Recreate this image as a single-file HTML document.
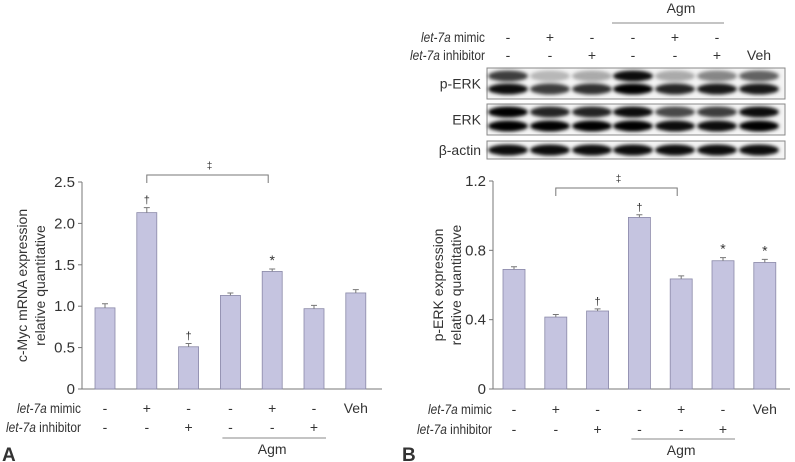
<!DOCTYPE html>
<html><head><meta charset="utf-8">
<style>
html,body{margin:0;padding:0;background:#fff;}
svg{display:block;font-family:"Liberation Sans Narrow","Liberation Sans",sans-serif;}
text{fill:#333;}
</style></head>
<body>
<svg id="fig" width="795" height="462" viewBox="0 0 795 462" xmlns="http://www.w3.org/2000/svg">
<defs>
<filter id="blur" x="-20%" y="-50%" width="140%" height="200%"><feGaussianBlur stdDeviation="1.8"/></filter>
</defs>
<g id="panelA"></g>
<g id="panelB"></g>
<g id="blot"></g>
</svg>
<script>
// ---- data ----
var mimicRow = ["-","+","-","-","+","-","Veh"];
var inhibRow = ["-","-","+","-","-","+",""];
var aValues = [0.98, 2.13, 0.51, 1.13, 1.42, 0.97, 1.16];
var aErrors = [0.05, 0.06, 0.04, 0.03, 0.03, 0.04, 0.04];
var aMarks = ["", "†", "†", "", "*", "", ""];
var aTicks = [0, 0.5, 1.0, 1.5, 2.0, 2.5];
var aTickLabels = ["0","0.5","1.0","1.5","2.0","2.5"];
var bValues = [0.69, 0.415, 0.45, 0.99, 0.635, 0.74, 0.73];
var bErrors = [0.015, 0.015, 0.012, 0.015, 0.018, 0.018, 0.018];
var bMarks = ["", "", "†", "†", "", "*", "*"];
var bTicks = [0, 0.4, 0.8, 1.2];
var bTickLabels = ["0","0.4","0.8","1.2"];
// blot band intensities (0..1) per lane
var pErkUpper = [0.75, 0.25, 0.3, 0.95, 0.3, 0.45, 0.6];
var pErkLower = [0.95, 0.75, 0.8, 1.0, 0.85, 0.9, 0.9];
var erkUpper = [1.0, 0.85, 0.85, 0.95, 0.7, 0.75, 0.95];
var erkLower = [1.0, 1.0, 1.0, 1.0, 0.95, 0.95, 1.0];
var actin = [0.95, 0.95, 0.95, 0.95, 0.95, 0.95, 0.95];

var NS="http://www.w3.org/2000/svg";
function mk(parent, tag, attrs, txt){
  var e=document.createElementNS(NS,tag);
  for(var k in attrs) e.setAttribute(k, attrs[k]);
  if(txt!==undefined) e.textContent=txt;
  parent.appendChild(e); return e;
}

function drawPanel(g, cfg){
  var x0=cfg.x0, x1=cfg.x1, y0=cfg.y0, yTop=cfg.yTop, maxV=cfg.max;
  function yS(v){ return y0 - (v/maxV)*(y0-yTop); }
  function xS(i){ return cfg.c0 + i*cfg.step; }
  var ax=mk(g,'path',{d:'M'+x0+','+yTop+' V'+y0+' H'+x1,stroke:'#777','stroke-width':1,fill:'none'});
  
  
  cfg.ticks.forEach(function(t,i){
    var y=yS(t);
    var tk=mk(g,'line',{x1:x0-4,x2:x0,y1:y,y2:y,stroke:'#777'});
    
    
    var tl=mk(g,'text',{x:x0-7,y:y+5,'text-anchor':'end','font-size':15},cfg.tickLabels[i]);
    
    
  });
  cfg.values.forEach(function(v,i){
    var cx=xS(i), w=cfg.bw;
    var r=mk(g,'rect',{x:cx-w/2,y:yS(v),width:w,height:y0-yS(v),fill:'#c5c4e0',stroke:'#8a89a8','stroke-width':0.8});
    
    
    var ye=yS(v+cfg.errors[i]);
    var eb=mk(g,'path',{d:'M'+cx+','+yS(v)+' V'+ye+' M'+(cx-3)+','+ye+' H'+(cx+3),stroke:'#777',fill:'none'});
    
    
    if(cfg.marks[i]){
      var m=mk(g,'text',{x:cx,y:ye-4,'text-anchor':'middle','font-size':cfg.marks[i]=='*'?14:11},cfg.marks[i]);
      
      
    }
    var t1=mk(g,'text',{x:cx,y:cfg.rowY1,'text-anchor':'middle','font-size':14},mimicRow[i]);
    
    
    var t2=mk(g,'text',{x:cx,y:cfg.rowY2,'text-anchor':'middle','font-size':14},inhibRow[i]);
    
    
  });
  var l1=mk(g,'text',{x:x0-65,y:cfg.rowY1,'font-size':14,textLength:64,lengthAdjust:'spacingAndGlyphs'});
  
  
  mk(l1,'tspan',{'font-style':'italic'},'let-7a'); mk(l1,'tspan',{},' mimic');
  var l2=mk(g,'text',{x:x0-76,y:cfg.rowY2,'font-size':14,textLength:75,lengthAdjust:'spacingAndGlyphs'});
  
  
  mk(l2,'tspan',{'font-style':'italic'},'let-7a'); mk(l2,'tspan',{},' inhibitor');
  var al=mk(g,'line',{x1:xS(3)-8,x2:xS(5)+12,y1:cfg.agmY,y2:cfg.agmY,stroke:'#888'});
  
  
  var at=mk(g,'text',{x:xS(4),y:cfg.agmY+16,'text-anchor':'middle','font-size':14},'Agm');
  
  
  var by=cfg.brY;
  var br=mk(g,'path',{d:'M'+xS(1)+','+(by+8)+' V'+by+' H'+(xS(4)-4)+' V'+(by+8),stroke:'#777',fill:'none'});
  
  
  var bt=mk(g,'text',{x:(xS(1)+xS(4))/2,y:by-6,'text-anchor':'middle','font-size':10},'‡');
  
  
  var yt=mk(g,'text',{transform:'translate('+cfg.titleX+','+((yTop+y0)/2)+') rotate(-90)','text-anchor':'middle','font-size':14});
  
  
  mk(yt,'tspan',{x:0,y:0},cfg.title1);
  mk(yt,'tspan',{x:0,y:18},'relative quantitative');
  var pl=mk(g,'text',{x:cfg.letterX,y:461,'font-size':19,'font-weight':'bold','font-family':'Liberation Sans, sans-serif'},cfg.letter);
  
  
}

drawPanel(document.getElementById('panelA'),{x0:82,x1:382,y0:389,yTop:182,max:2.5,c0:105,step:41.8,bw:20,
  values:aValues,errors:aErrors,marks:aMarks,ticks:aTicks,tickLabels:aTickLabels,
  rowY1:413,rowY2:432,agmY:438,brY:175,titleX:27,title1:'c-Myc mRNA expression',letter:'A',letterX:2});
drawPanel(document.getElementById('panelB'),{x0:493,x1:790,y0:389,yTop:181,max:1.2,c0:514,step:41.8,bw:22,
  values:bValues,errors:bErrors,marks:bMarks,ticks:bTicks,tickLabels:bTickLabels,
  rowY1:414,rowY2:434,agmY:439,brY:188,titleX:443,title1:'p-ERK expression',letter:'B',letterX:402});

(function(){
  var g=document.getElementById('blot');
  var lanes=[514,556,598,639,681,723,765];
  var t=mk(g,'text',{x:681,y:13,'text-anchor':'middle','font-size':14},'Agm');
  
  
  var l=mk(g,'line',{x1:612,x2:724,y1:23,y2:23,stroke:'#888'});
  
  
  var r1=mk(g,'text',{x:421,y:42,'font-size':14,textLength:64,lengthAdjust:'spacingAndGlyphs'});
  
  
  mk(r1,'tspan',{'font-style':'italic'},'let-7a'); mk(r1,'tspan',{},' mimic');
  var r2=mk(g,'text',{x:410,y:60,'font-size':14,textLength:75,lengthAdjust:'spacingAndGlyphs'});
  
  
  mk(r2,'tspan',{'font-style':'italic'},'let-7a'); mk(r2,'tspan',{},' inhibitor');
  lanes.forEach(function(cx,i){
    var a=mk(g,'text',{x:cx-6,y:42,'text-anchor':'middle','font-size':14},mimicRow[i]=='Veh'?'':mimicRow[i]);
    
    
    var b=mk(g,'text',{x:cx-6,y:60,'text-anchor':'middle','font-size':14},i==6?'Veh':inhibRow[i]);
    
    
  });
  var boxes=[{y:68,h:31,n:'p-ERK',bands:[[76,pErkUpper],[89,pErkLower]]},
             {y:104,h:31,n:'ERK',bands:[[112,erkUpper],[126,erkLower]]},
             {y:141,h:18,n:'β-actin',bands:[[150,actin]]}];
  boxes.forEach(function(bx){
    var r=mk(g,'rect',{x:487,y:bx.y,width:298,height:bx.h,fill:'#f4f4f4',stroke:'#888'});
    
    
    var lt=mk(g,'text',{x:481,y:bx.y+bx.h/2+5,'text-anchor':'end','font-size':14},bx.n);
    
    
    bx.bands.forEach(function(bd){
      bd[1].forEach(function(v,i){
        var e=mk(g,'ellipse',{cx:lanes[i]-6,cy:bd[0],rx:20,ry:5.5,fill:'#000','fill-opacity':v,filter:'url(#blur)'});
        
        
      });
    });
  });
})();
</script>
</body></html>
